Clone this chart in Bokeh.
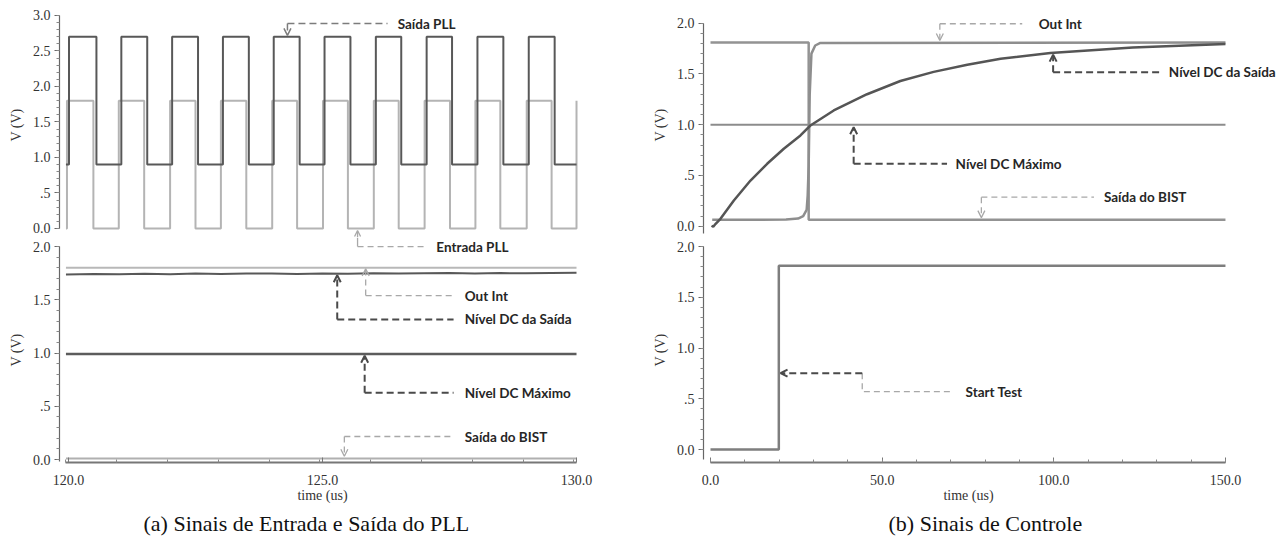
import numpy as np
from bokeh.plotting import figure
from bokeh.models import Range1d, FixedTicker, Arrow, OpenHead, Label, Title
from bokeh.layouts import row, column
from bokeh.embed import file_html
from bokeh.resources import INLINE

# ---------------- panel (a): PLL input / output (time in us, V) ----------------
a_t_start = 119.95
a_t_end = 130.0
pll_in_rise = [119.97, 120.99, 122.0, 123.0, 124.01, 125.01, 126.01, 127.01, 128.01, 129.02, 130.0]
pll_in_fall = [120.49, 121.49, 122.5, 123.5, 124.5, 125.5, 126.5, 127.51, 128.5, 129.51]
pll_in_low, pll_in_high = 0.0, 1.8
pll_out_rise = [120.01, 121.04, 122.04, 123.04, 124.04, 125.04, 126.05, 127.05, 128.05, 129.06]
pll_out_fall = [120.55, 121.55, 122.55, 123.55, 124.55, 125.55, 126.55, 127.55, 128.56, 129.57]
pll_out_low, pll_out_high = 0.9, 2.7

a_out_int = 1.8
a_dc_max = 0.99
a_bist = 0.01
a_dc_out_t = [119.95, 120.5, 121.0, 121.5, 122.0, 122.5, 123.0, 123.5, 124.0, 124.5, 125.0,
              125.5, 126.0, 126.5, 127.0, 127.5, 128.0, 128.5, 129.0, 129.5, 130.0]
a_dc_out_v = [1.738, 1.742, 1.739, 1.744, 1.741, 1.746, 1.743, 1.746, 1.748, 1.743, 1.747,
              1.745, 1.749, 1.746, 1.749, 1.752, 1.748, 1.751, 1.749, 1.752, 1.754]

# ---------------- panel (b): control signals ----------------
b_bist_t = [0.0, 28.6, 28.6, 150.0]
b_bist_v = [1.81, 1.81, 0.063, 0.063]
b_outint_t = [0.5, 15.0, 22.0, 25.5, 27.0, 28.0, 28.3, 28.6, 28.9, 29.4, 30.5, 32.0, 150.0]
b_outint_v = [0.063, 0.063, 0.066, 0.075, 0.10, 0.16, 0.30, 0.60, 1.30, 1.70, 1.78, 1.805, 1.81]
b_dc_out_t = [0.3, 0.8, 1.5, 2.9, 6.8, 11.65, 16.5, 21.35, 26.2, 29.1, 35.9, 45.6, 55.3,
              65.0, 74.8, 84.5, 99.0, 123.0, 150.0]
b_dc_out_v = [0.005, -0.005, 0.024, 0.073, 0.253, 0.45, 0.615, 0.763, 0.894, 0.992, 1.14, 1.30,
              1.43, 1.52, 1.59, 1.65, 1.705, 1.76, 1.795]
b_dc_max_t = [0.0, 150.0]
b_dc_max_v = [1.0, 1.0]
b_start_t = [0.0, 19.9, 19.9, 150.0]
b_start_v = [0.0, 0.0, 1.81, 1.81]

# ---------------- ticks ----------------
a_top_yticks = [0.0, 0.5, 1.0, 1.5, 2.0, 2.5, 3.0]
a_top_ylabels = ["0.0", ".5", "1.0", "1.5", "2.0", "2.5", "3.0"]
v2_yticks = [0.0, 0.5, 1.0, 1.5, 2.0]
v2_ylabels = ["0.0", ".5", "1.0", "1.5", "2.0"]
a_xticks = [120.0, 125.0, 130.0]
a_xlabels = ["120.0", "125.0", "130.0"]
b_xticks = [0.0, 50.0, 100.0, 150.0]
b_xlabels = ["0.0", "50.0", "100.0", "150.0"]

# ---------------- annotations: (text, x_arrow, y_tip, y_elbow, x_line_end, x_text, style) ----
a_top_notes = [("Saída PLL", 124.31, 2.72, 2.887, 126.28, 126.48, "mid")]
a_bot_notes = [
    ("Out Int", 125.85, 1.79, 1.54, 127.58, 127.8, "light"),
    ("Nível DC da Saída", 125.29, 1.73, 1.315, 127.58, 127.8, "dark"),
    ("Nível DC Máximo", 125.83, 0.975, 0.626, 127.58, 127.8, "dark"),
    ("Saída do BIST", 125.43, 0.03, 0.216, 127.58, 127.8, "light"),
]
a_entrada_note = ("Entrada PLL", 125.69, 2.0, 127.03, 127.24)
b_top_notes = [
    ("Out Int", 66.8, 1.83, 1.994, 90.8, 95.6, "light"),
    ("Nível DC da Saída", 99.8, 1.69, 1.517, 131.1, 133.5, "dark"),
    ("Nível DC Máximo", 41.7, 0.975, 0.615, 68.9, 71.4, "dark"),
    ("Saída do BIST", 78.9, 0.085, 0.286, 111.7, 114.6, "light"),
]
b_start_note = ("Start Test", 44.2, 20.4, 0.752, 0.571, 69.9, 74.3)

STYLES = {
    "dark": dict(color="#4a4a4a", width=2.0, dash="7 4"),
    "mid": dict(color="#7c7c7c", width=1.5, dash="7 4"),
    "light": dict(color="#a8a8a8", width=1.3, dash="6 4"),
}
SERIF = "Liberation Serif"
TICK_COLOR = "#333333"
NOTE_FONT = "Lato"


def square(rises, falls, lo, hi, t0, t1):
    edges = sorted([(r, hi) for r in rises] + [(f, lo) for f in falls])
    xs, ys, cur = [t0], [lo], lo
    for t, new in edges:
        xs += [t, t]
        ys += [cur, new]
        cur = new
    if xs[-1] < t1:
        xs.append(t1)
        ys.append(cur)
    return xs, ys


def make_fig(xr, yr, frame_w, left, right, top, with_x):
    p = figure(frame_width=frame_w, frame_height=225, x_range=xr, y_range=yr,
               output_backend="svg", toolbar_location=None,
               x_axis_location="below" if with_x else None,
               min_border_left=left, min_border_right=right,
               min_border_top=top, min_border_bottom=0)
    p.grid.visible = False
    p.outline_line_color = None
    p.background_fill_color = "white"
    p.border_fill_color = "white"
    return p


def style_y(p, ticks, labels, bounds):
    ax = p.yaxis[0]
    minor = list(np.round(np.arange(0.0, ticks[-1] + 1e-9, 0.1), 2))
    ax.ticker = FixedTicker(ticks=ticks, minor_ticks=minor)
    ax.major_label_overrides = dict(zip(ticks, labels))
    ax.bounds = bounds
    ax.axis_label = "V (V)"
    ax.axis_label_text_font = SERIF
    ax.axis_label_text_font_size = "14px"
    ax.axis_label_text_font_style = "normal"
    ax.axis_label_text_color = TICK_COLOR
    ax.axis_label_standoff = 6
    ax.major_label_text_font = SERIF
    ax.major_label_text_font_size = "14px"
    ax.major_label_text_color = TICK_COLOR
    ax.major_label_standoff = 4
    ax.major_tick_out = 5
    ax.major_tick_in = 0
    ax.minor_tick_out = 3
    ax.minor_tick_in = 0
    ax.axis_line_color = "#666666"
    ax.axis_line_width = 1.2
    ax.major_tick_line_color = "#666666"
    ax.minor_tick_line_color = "#888888"


def style_x(p, ticks, labels, bounds, minor_step):
    ax = p.xaxis[0]
    minor = list(np.round(np.arange(bounds[0], bounds[1] + 1e-9, minor_step), 3))
    ax.ticker = FixedTicker(ticks=ticks, minor_ticks=minor)
    ax.major_label_overrides = dict(zip(ticks, labels))
    ax.bounds = bounds
    ax.axis_label = "time (us)"
    ax.axis_label_text_font = SERIF
    ax.axis_label_text_font_size = "14px"
    ax.axis_label_text_font_style = "normal"
    ax.axis_label_text_color = TICK_COLOR
    ax.axis_label_standoff = 0
    ax.major_label_text_font = SERIF
    ax.major_label_text_font_size = "14px"
    ax.major_label_text_color = TICK_COLOR
    ax.major_label_standoff = 12
    ax.major_tick_in = 5
    ax.major_tick_out = 0
    ax.minor_tick_in = 3
    ax.minor_tick_out = 0
    ax.axis_line_color = "#777777"
    ax.axis_line_width = 2
    ax.major_tick_line_color = "#777777"
    ax.minor_tick_line_color = "#888888"


def note_text(p, x, y, text):
    p.add_layout(Label(x=x, y=y, text=text, text_font=NOTE_FONT, text_font_style="bold",
                       text_font_size="13.5px", text_baseline="middle", text_align="left",
                       text_color="#262626"))


def arrow(p, x0, y0, x1, y1, st, head=7):
    p.add_layout(Arrow(end=OpenHead(size=head, line_color=st["color"], line_width=st["width"]),
                       x_start=x0, y_start=y0, x_end=x1, y_end=y1,
                       line_color=st["color"], line_width=st["width"], line_dash=st["dash"]))


def add_notes(p, notes):
    for text, xa, ytip, yel, xend, xtext, sname in notes:
        st = STYLES[sname]
        arrow(p, xa, yel, xa, ytip, st)
        p.line([xa, xend], [yel, yel], line_color=st["color"], line_width=st["width"],
               line_dash=st["dash"])
        note_text(p, xtext, yel, text)


def caption(p, text, offset):
    p.add_layout(Title(text=text, align="left", offset=offset, text_font=SERIF,
                       text_font_size="22px", text_font_style="normal",
                       text_color="#111111", standoff=6), "below")


# ================= panel (a) =================
a_xr = Range1d(119.823, 130.177)
a_top = make_fig(a_xr, Range1d(-0.127, 3.042), 526, 59, 55, 12, False)
a_bot = make_fig(a_xr, Range1d(-0.028, 2.085), 526, 59, 55, 0, True)

xin, yin = square(pll_in_rise, pll_in_fall, pll_in_low, pll_in_high, a_t_start, a_t_end)
xout, yout = square(pll_out_rise, pll_out_fall, pll_out_low, pll_out_high, a_t_start, a_t_end)
a_top.line(xin, yin, line_color="#b4b4b4", line_width=2)
a_top.line(xout, yout, line_color="#585858", line_width=2)
style_y(a_top, a_top_yticks, a_top_ylabels, (0.0, 3.0))
add_notes(a_top, a_top_notes)

a_bot.line([a_t_start, a_t_end], [a_out_int, a_out_int], line_color="#b8b8b8", line_width=2)
a_bot.line(a_dc_out_t, a_dc_out_v, line_color="#585858", line_width=2)
a_bot.line([a_t_start, a_t_end], [a_dc_max, a_dc_max], line_color="#5c5c5c", line_width=2.5)
a_bot.line([a_t_start, a_t_end], [a_bist, a_bist], line_color="#b0b0b0", line_width=2)
style_y(a_bot, v2_yticks, v2_ylabels, (-0.02, 2.0))
style_x(a_bot, a_xticks, a_xlabels, (a_t_start, a_t_end), 1.0)
add_notes(a_bot, a_bot_notes)

# "Entrada PLL" note crosses the two sub-plots
en_text, en_x, en_y, en_xend, en_xtext = a_entrada_note
lt = STYLES["light"]
arrow(a_top, en_x, -0.127, en_x, -0.028, lt, head=6)
a_bot.line([en_x, en_x], [2.085, en_y], line_color=lt["color"], line_width=lt["width"])
a_bot.line([en_x, en_xend], [en_y, en_y], line_color=lt["color"], line_width=lt["width"],
           line_dash=lt["dash"])
note_text(a_bot, en_xtext, en_y, en_text)
caption(a_bot, "(a) Sinais de Entrada e Saída do PLL", 84)

# ================= panel (b) =================
b_top = make_fig(Range1d(-2.039, 166.03), Range1d(-0.111, 2.105), 577, 63, 2, 12, False)
b_bot = make_fig(Range1d(-2.039, 152.34), Range1d(-0.128, 2.089), 530, 63, 49, 0, True)

b_top.line(b_dc_max_t, b_dc_max_v, line_color="#8c8c8c", line_width=2)
b_top.line(b_bist_t, b_bist_v, line_color="#939393", line_width=2.5)
b_top.line(b_outint_t, b_outint_v, line_color="#8e8e8e", line_width=2.5)
b_top.line(b_dc_out_t, b_dc_out_v, line_color="#555555", line_width=2.5)
style_y(b_top, v2_yticks, v2_ylabels, (-0.07, 2.0))
add_notes(b_top, b_top_notes)

b_bot.line(b_start_t, b_start_v, line_color="#7e7e7e", line_width=2.5)
style_y(b_bot, v2_yticks, v2_ylabels, (-0.1, 2.0))
style_x(b_bot, b_xticks, b_xlabels, (0.0, 150.0), 10.0)

s_text, s_x, s_tip, s_y1, s_y2, s_xend, s_xtext = b_start_note
dk = STYLES["dark"]
arrow(b_bot, s_x, s_y1, s_tip, s_y1, dk)
b_bot.line([s_x, s_x, s_xend], [s_y1, s_y2, s_y2], line_color=lt["color"], line_width=lt["width"],
           line_dash=lt["dash"])
note_text(b_bot, s_xtext, s_y2, s_text)
caption(b_bot, "(b) Sinais de Controle", 185)

layout = row(column(a_top, a_bot), column(b_top, b_bot))
open("out.html", "w").write(file_html(layout, INLINE))
